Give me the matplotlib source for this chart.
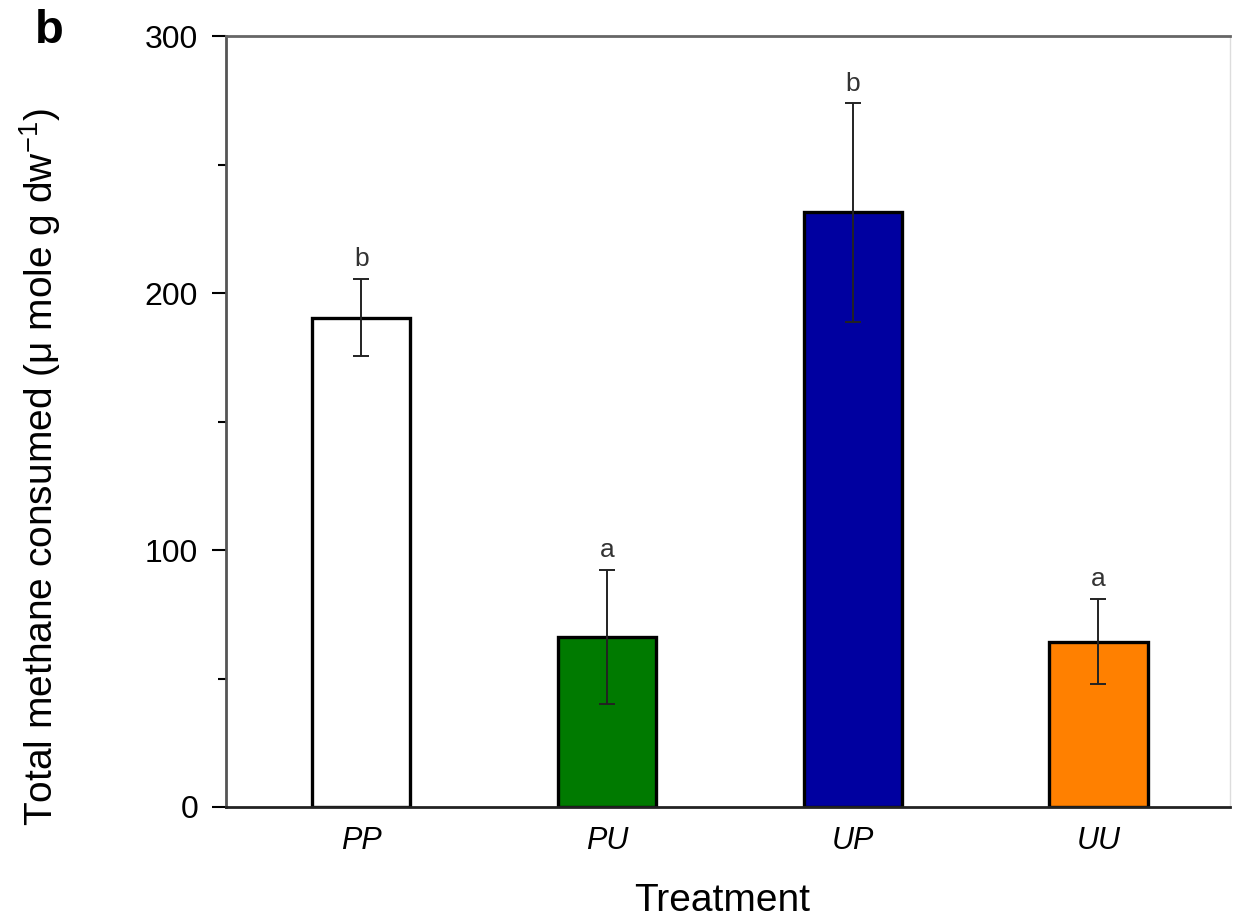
import numpy as np
import matplotlib
matplotlib.use("Agg")
import matplotlib.pyplot as plt
from matplotlib.ticker import MultipleLocator

plt.rcParams['font.family'] = ['Liberation Sans', 'DejaVu Sans']
plt.rcParams['mathtext.fontset'] = 'custom'
plt.rcParams['mathtext.rm'] = 'Liberation Sans'
plt.rcParams['mathtext.it'] = 'Liberation Sans:italic'

treatments = ['PP', 'PU', 'UP', 'UU']
methane = [190.5, 66.2, 231.5, 64.4]
methane_se = [15.0, 26.0, 42.5, 16.6]
letters = ['b', 'a', 'b', 'a']
bar_colors = ['#ffffff', '#007a00', '#0000a0', '#ff8000']

fig = plt.figure(figsize=(12.39, 9.21), dpi=100)
ax = fig.add_axes((0.1824, 0.1238, 0.8103, 0.8366))

x = np.arange(len(treatments))
ax.bar(x, methane, width=0.40, color=bar_colors, edgecolor='black',
       linewidth=2.4, zorder=2)
ax.errorbar(x, methane, yerr=methane_se, fmt='none', ecolor='#222222',
            elinewidth=1.4, capsize=6, capthick=1.4, zorder=3)

for xi, val, err, lab in zip(x, methane, methane_se, letters):
    ax.text(xi, val + err + 3, lab, ha='center', va='bottom',
            fontsize=19, color='#333333')

ax.set_xlim(-0.55, 3.535)
ax.set_ylim(0, 300)
ax.yaxis.set_major_locator(MultipleLocator(100))
ax.yaxis.set_minor_locator(MultipleLocator(50))
ax.set_xticks(x)
ax.set_xticklabels(treatments, fontstyle='italic')
ax.tick_params(axis='x', length=0, labelsize=22, pad=14)
ax.tick_params(axis='y', which='major', length=10, width=1.5, labelsize=23,
               direction='out', pad=10)
ax.tick_params(axis='y', which='minor', length=6, width=1.5, direction='out')

ax.spines['left'].set_color('#555555')
ax.spines['left'].set_linewidth(2)
ax.spines['bottom'].set_color('#222222')
ax.spines['bottom'].set_linewidth(2)
ax.spines['top'].set_color('#666666')
ax.spines['top'].set_linewidth(2)
ax.spines['right'].set_color('#dddddd')
ax.spines['right'].set_linewidth(1)

ax.set_xlabel('Treatment', fontsize=28)
ax.xaxis.set_label_coords(0.494, -0.122)
ax.xaxis.label.set_verticalalignment('center')
ax.set_ylabel('Total methane consumed (\u03bc mole g dw$^{-1}$)', fontsize=28)
ax.yaxis.set_label_coords(-0.185, 0.441)
ax.yaxis.label.set_verticalalignment('center')

fig.text(0.0395, 0.966, 'b', fontsize=34, fontweight='bold', ha='center',
         va='center')

fig.savefig('out.png', dpi=100)
